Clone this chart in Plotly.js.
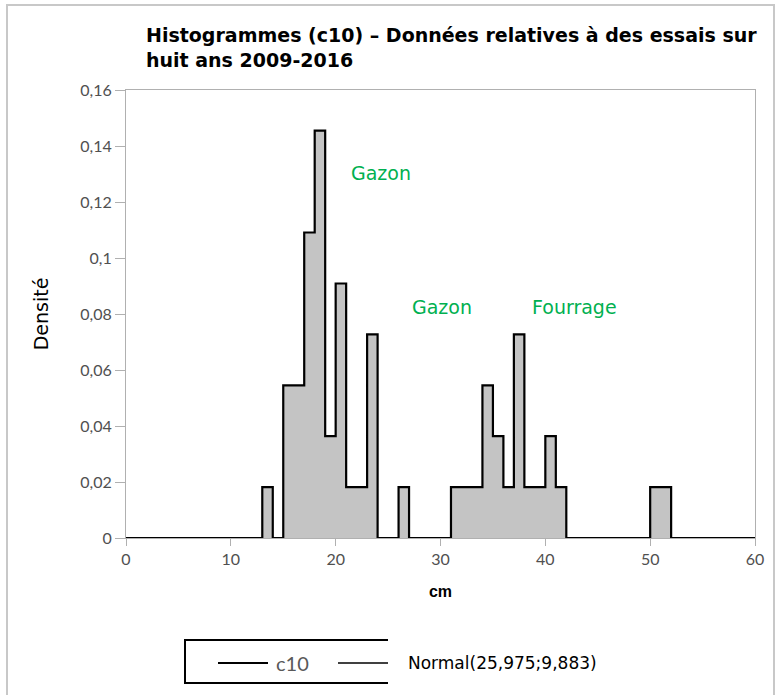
<!DOCTYPE html>
<html>
<head>
<meta charset="utf-8">
<script src="https://cdn.plot.ly/plotly-3.0.1.min.js"></script>
<style>
  html, body { margin: 0; padding: 0; background: #ffffff; }
  #chart { width: 781px; height: 695px; }
</style>
</head>
<body>
<div id="chart"></div>
<script>
// Histogram outline: left edge of each step (cm) and the density on that step
const stepEdges = [0, 13, 14, 15, 17, 18, 19, 20, 21, 23, 24, 26, 27, 31, 34, 35, 36, 37, 38, 40, 41, 42, 50, 52, 60];
const stepDensity = [0, 0.0182, 0, 0.0545, 0.1091, 0.1455, 0.0364, 0.0909, 0.0182, 0.0727, 0, 0.0182, 0, 0.0182, 0.0545, 0.0364, 0.0182, 0.0727, 0.0182, 0.0364, 0.0182, 0, 0.0182, 0, 0];

const yTickVals = [0, 0.02, 0.04, 0.06, 0.08, 0.1, 0.12, 0.14, 0.16];
const yTickText = ["0", "0,02", "0,04", "0,06", "0,08", "0,1", "0,12", "0,14", "0,16"];
const xTickVals = [0, 10, 20, 30, 40, 50, 60];
const xTickText = ["0", "10", "20", "30", "40", "50", "60"];

const labelTexts = ["Gazon", "Gazon", "Fourrage"];
const labelX = [24.3, 30.1, 42.8];
const labelY = [0.1304, 0.0825, 0.0825];

const legendNames = ["c10", "Normal(25,975;9,883)"];

const W = 781, H = 695;
const M = { l: 126, r: 26, t: 90, b: 157 };
const pw = W - M.l - M.r, ph = H - M.t - M.b;
const px = v => (v - M.l) / pw;      // pixel x -> paper x
const py = v => (H - M.b - v) / ph;  // pixel y -> paper y

const SANS = 'DejaVu Sans, Arial, sans-serif';
const TICKF = 'Lato, Carlito, sans-serif';

const trace = {
  x: stepEdges,
  y: stepDensity,
  type: 'scatter',
  mode: 'lines',
  line: { shape: 'hv', color: '#000000', width: 2.2 },
  fill: 'tozeroy',
  fillcolor: '#c4c4c4',
  name: legendNames[0],
  showlegend: false,
  hoverinfo: 'x+y'
};

const annotations = labelTexts.map((t, i) => ({
  x: labelX[i], y: labelY[i], xref: 'x', yref: 'y',
  text: t, showarrow: false,
  font: { family: SANS, size: 19, color: '#00b050' }
}));

annotations.push({
  xref: 'paper', yref: 'paper', x: px(274), y: py(663), xanchor: 'left', yanchor: 'middle',
  text: legendNames[0], showarrow: false,
  font: { family: TICKF, size: 20, color: '#595959' }
});
annotations.push({
  xref: 'paper', yref: 'paper', x: px(406), y: py(663), xanchor: 'left', yanchor: 'middle',
  text: legendNames[1], showarrow: false,
  font: { family: SANS, size: 17, color: '#000000' }
});

const shapes = [
  // outer frame
  { type: 'rect', xref: 'paper', yref: 'paper', x0: px(7), x1: px(774), y0: py(5), y1: py(720),
    line: { color: '#c8c8c8', width: 2 }, fillcolor: 'rgba(0,0,0,0)', layer: 'below' },
  // legend box (open on the right)
  { type: 'path', xref: 'paper', yref: 'paper',
    path: `M ${px(388)} ${py(640)} L ${px(185)} ${py(640)} L ${px(185)} ${py(683)} L ${px(388)} ${py(683)}`,
    line: { color: '#000000', width: 2 } },
  // legend line samples
  { type: 'line', xref: 'paper', yref: 'paper', x0: px(218), x1: px(268), y0: py(663), y1: py(663),
    line: { color: '#000000', width: 2 } },
  { type: 'line', xref: 'paper', yref: 'paper', x0: px(338), x1: px(388), y0: py(663), y1: py(663),
    line: { color: '#404040', width: 2 } }
];

const layout = {
  width: W, height: H,
  margin: M,
  paper_bgcolor: '#ffffff',
  plot_bgcolor: '#ffffff',
  showlegend: false,
  title: {
    text: 'Histogrammes (c10) – Données relatives à des essais sur<br>huit ans 2009-2016',
    font: { family: SANS, size: 19, color: '#000000', weight: 'bold' },
    x: 146 / W, xanchor: 'left', xref: 'container',
    y: 1 - 42 / H, yanchor: 'top', yref: 'container'
  },
  xaxis: {
    range: [0, 60],
    tickvals: xTickVals, ticktext: xTickText,
    showgrid: false, zeroline: false,
    showline: true, mirror: true, linecolor: '#b0b0b0', linewidth: 1,
    ticks: 'outside', ticklen: 7, tickcolor: '#b0b0b0',
    tickfont: { family: TICKF, size: 16, color: '#505050' },
    title: { text: 'cm', standoff: 18,
      font: { family: 'Liberation Sans, Arial, sans-serif', size: 16, color: '#000000', weight: 'bold' } }
  },
  yaxis: {
    range: [0, 0.16],
    tickvals: yTickVals, ticktext: yTickText,
    showgrid: false, zeroline: false,
    showline: true, mirror: true, linecolor: '#b0b0b0', linewidth: 1,
    ticks: 'outside', ticklen: 10, tickcolor: '#b0b0b0',
    tickfont: { family: TICKF, size: 16, color: '#505050' },
    title: { text: 'Densité', standoff: 26,
      font: { family: SANS, size: 19, color: '#000000' } }
  },
  annotations: annotations,
  shapes: shapes
};

Plotly.newPlot('chart', [trace], layout, { displayModeBar: false, staticPlot: true });
</script>
</body>
</html>
